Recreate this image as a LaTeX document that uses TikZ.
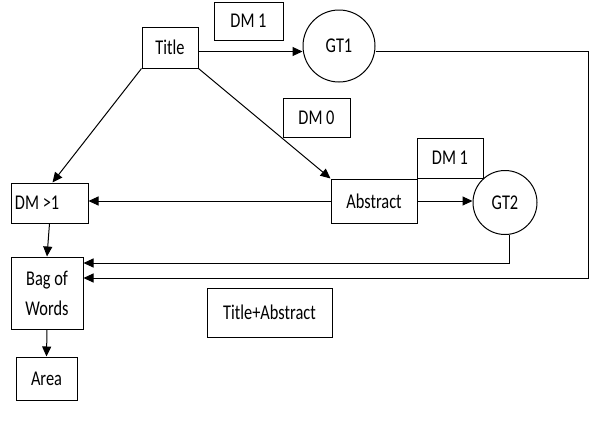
\documentclass[tikz,border=0pt]{standalone}
\usepackage{fontspec}
\setmainfont{Carlito}[FakeStretch=0.78]
\usetikzlibrary{arrows.meta}
\tikzset{
  box/.style={draw,line width=1pt,inner sep=2pt,align=center,font=\fontsize{21}{30}\selectfont},
  ring/.style={draw,circle,line width=1pt,inner sep=0pt,font=\fontsize{21}{24}\selectfont},
  arr/.style={line width=1pt,-{Triangle[length=10pt,width=9pt]}}
}
\begin{document}
\begin{tikzpicture}[x=1pt,y=-1pt]
                \useasboundingbox (0,0) rectangle (598,432);

                \node[box,minimum width=56pt,minimum height=41pt] (title) at (170,47.5) {Title};
                \node[box,minimum width=69pt,minimum height=38pt] (dmTop) at (248.5,21) {DM 1};
                \node[ring,minimum size=72pt] (gtOne) at (339,46) {GT1};
                \node[box,minimum width=67pt,minimum height=39pt] (dmZero) at (316.5,117.5) {DM 0};
                \node[box,minimum width=86pt,minimum height=44pt] (abstract) at (374,201) {Abstract};
                \node[box,minimum width=66pt,minimum height=40pt] (dmMid) at (450,158) {DM 1};
                \node[ring,minimum size=64pt] (gtTwo) at (505,202.5) {GT2};
                \node[box,minimum width=77pt,minimum height=40pt,text width=69pt,align=flush left] (dmMany) at (49.5,203) {DM >1};
                \node[box,minimum width=72pt,minimum height=72pt] (bow) at (47,293) {Bag of\\Words};
                \node[box,minimum width=61pt,minimum height=43pt] (area) at (46.5,378.5) {Area};
                \node[box,minimum width=125pt,minimum height=49pt] (titleAbs) at (269.5,312.5) {Title+Abstract};

                \coordinate (corner) at (588,278);

                \draw[arr] ([yshift=-4pt]title.east) -- ([yshift=-4pt]title.east -| gtOne.west);
                \draw[arr] (title.south west) -- ([xshift=3pt]dmMany.north);
                \draw[arr] (title.south east) -- (abstract.north west);
                \draw[arr] (abstract.west) -- (abstract.west -| dmMany.east);
                \draw[arr] (abstract.east) -- (abstract.east -| gtTwo.west);
                \draw[arr] (dmMany.south) -- (bow.north);
                \draw[arr] (bow.south) -- (area.north);
                \draw[arr] ([xshift=4pt]gtTwo.south) |- ([yshift=30pt]bow.east);
                \draw[arr] ([yshift=-5pt]gtOne.east) -| (corner) -- (corner -| bow.east);

\end{tikzpicture}
\end{document}
